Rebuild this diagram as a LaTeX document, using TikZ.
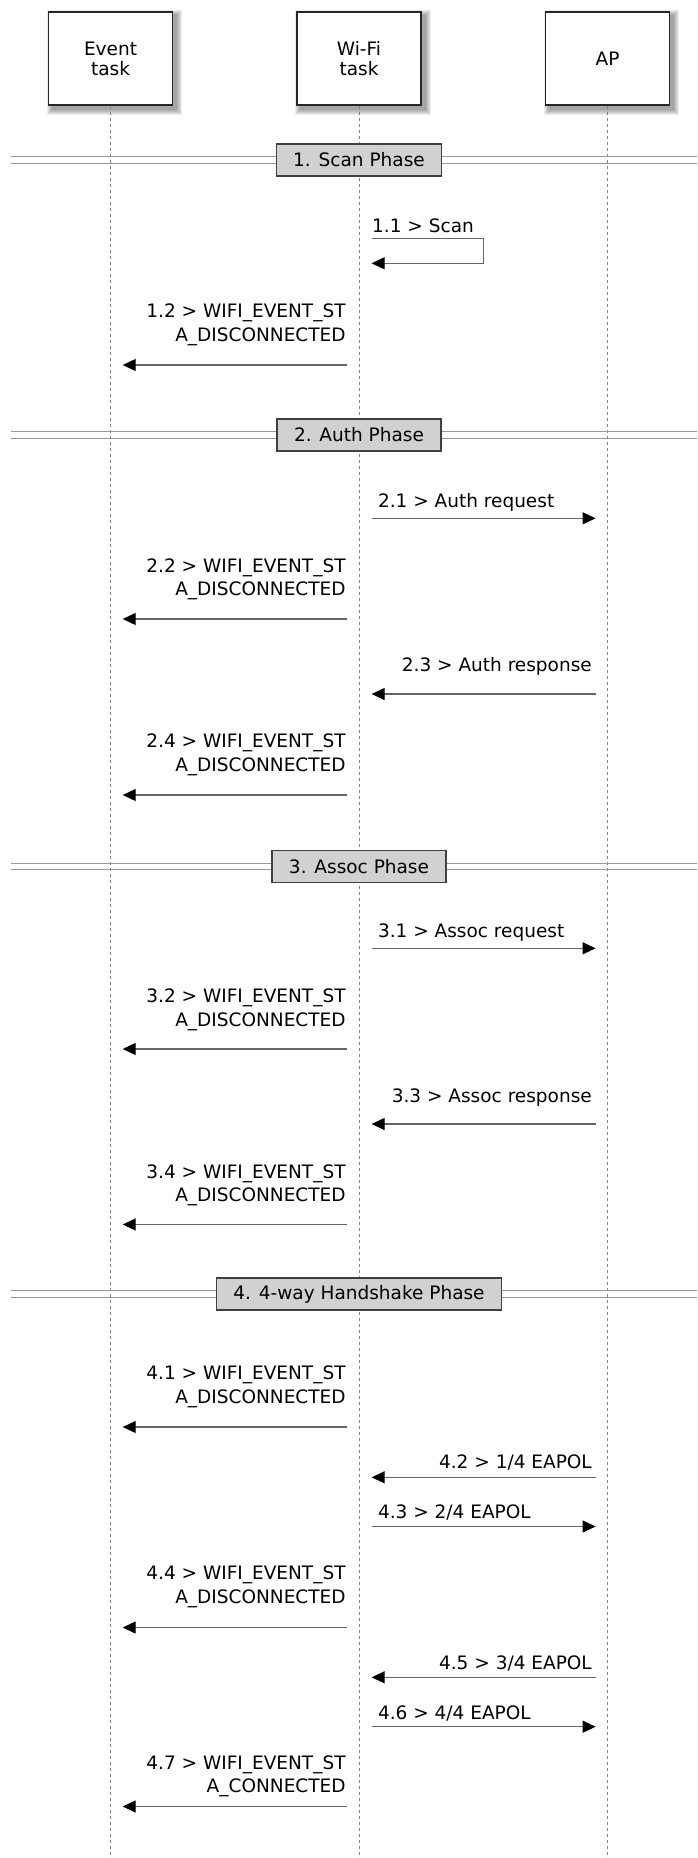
\documentclass[tikz,border=0pt]{standalone}
\usepackage{fontspec}
\setmainfont{DejaVu Sans}
\usetikzlibrary{arrows.meta,backgrounds}
\begin{document}
\begin{tikzpicture}[x=1pt,y=-1pt,
  every node/.style={font=\fontsize{18.5}{23.5}\selectfont},
  actor/.style={draw=black!85,line width=1.2pt,fill=white,minimum width=124pt,minimum height=93pt,align=center,inner sep=0pt,font=\fontsize{18.5}{20}\selectfont},
  shade/.style={fill=black,opacity=0.07,draw=none},
  life/.style={draw=black!50,line width=1pt,dash pattern=on 3.5pt off 2.5pt},
  msg/.style={draw=black!60,line width=1.1pt,-{Triangle[length=13pt,width=12pt,color=black]}},
  phase/.style={draw=black!75,fill=black!18,line width=1.2pt,minimum height=32pt,inner xsep=17pt,inner ysep=0pt},
  sep/.style={draw=black!40,line width=1.2pt},
  lbl/.style={inner sep=0pt,align=right},
]
\useasboundingbox (0,0) rectangle (697,1858);
% actors
\node[actor] (ev) at (110.5,58.5) {Event\\task};
\node[actor] (wf) at (359,58.5) {Wi-Fi\\task};
\node[actor] (ap) at (607.5,58.5) {AP};
\coordinate (evE) at (110.5,1858);
\coordinate (wfE) at (359,1858);
\coordinate (apE) at (607.5,1858);
% phase separators
\node[phase] (p1) at (359,160) {1. Scan Phase};
\node[phase] (p2) at (359,435) {2. Auth Phase};
\node[phase] (p3) at (359,866.5) {3. Assoc Phase};
\node[phase] (p4) at (359,1294) {4. 4-way Handshake Phase};
\foreach \p/\c in {p1/160,p2/435,p3/866.5,p4/1294}{
  \coordinate (\p L) at (11,\c);
  \coordinate (\p R) at (697,\c);
}
\begin{scope}[on background layer]
  \foreach \a in {ev,wf,ap}{
    \foreach \r in {0,1,...,5}{
      \fill[shade] ([shift={(4-\r,4-\r)}]\a.north west) rectangle ([shift={(4+\r,4+\r)}]\a.south east);
    }
  }
  \draw[life] (ev.south) -- (evE);
  \draw[life] (wf.south) -- (wfE);
  \draw[life] (ap.south) -- (apE);
  \foreach \p in {p1,p2,p3,p4}{
    \draw[sep] ([yshift=3.3pt]\p L) -- ([yshift=3.3pt]\p R);
    \draw[sep] ([yshift=-3.3pt]\p L) -- ([yshift=-3.3pt]\p R);
  }
\end{scope}
% 1.1 self loop
\coordinate (s1) at (371.6,238.3);
\coordinate (s2) at (483.6,238.3);
\coordinate (s3) at (483.6,263.3);
\coordinate (s4) at (371.6,263.3);
\draw[msg] (s1) -- (s2) -- (s3) -- (s4);
\node[lbl,anchor=base west] (t11) at (372,232) {1.1 > Scan};
% WiFi -> Event messages
\foreach \n/\a/\b/\txt in {
  12/365/341/{1.2 > WIFI\_EVENT\_ST\\A\_DISCONNECTED},
  22/619/595.7/{2.2 > WIFI\_EVENT\_ST\\A\_DISCONNECTED},
  24/795/771.3/{2.4 > WIFI\_EVENT\_ST\\A\_DISCONNECTED},
  32/1049/1026/{3.2 > WIFI\_EVENT\_ST\\A\_DISCONNECTED},
  34/1224.5/1201.7/{3.4 > WIFI\_EVENT\_ST\\A\_DISCONNECTED},
  41/1427/1403/{4.1 > WIFI\_EVENT\_ST\\A\_DISCONNECTED},
  44/1627.5/1603.4/{4.4 > WIFI\_EVENT\_ST\\A\_DISCONNECTED},
  47/1806.5/1792.7/{4.7 > WIFI\_EVENT\_ST\\A\_CONNECTED}}{
  \coordinate (m\n a) at (346.7,\a);
  \coordinate (m\n b) at (122.7,\a);
  \draw[msg] (m\n a) -- (m\n b);
  \node[lbl,anchor=base east] (t\n) at (345.8,\b) {\txt};
}
% WiFi -> AP messages
\foreach \n/\a/\b/\txt in {
  21/518.3/507.3/{2.1 > Auth request},
  31/948.3/937.2/{3.1 > Assoc request},
  43/1526.5/1518.3/{4.3 > 2/4 EAPOL},
  46/1726.7/1719/{4.6 > 4/4 EAPOL}}{
  \coordinate (m\n a) at (371.6,\a);
  \coordinate (m\n b) at (595.6,\a);
  \draw[msg] (m\n a) -- (m\n b);
  \node[lbl,anchor=base west] (t\n) at (377.8,\b) {\txt};
}
% AP -> WiFi messages
\foreach \n/\a/\b/\txt in {
  23/694/671.7/{2.3 > Auth response},
  33/1124/1102/{3.3 > Assoc response},
  42/1477.3/1468.3/{4.2 > 1/4 EAPOL},
  45/1677.3/1669/{4.5 > 3/4 EAPOL}}{
  \coordinate (m\n a) at (595.6,\a);
  \coordinate (m\n b) at (371.6,\a);
  \draw[msg] (m\n a) -- (m\n b);
  \node[lbl,anchor=base east] (t\n) at (592,\b) {\txt};
}
\end{tikzpicture}
\end{document}
